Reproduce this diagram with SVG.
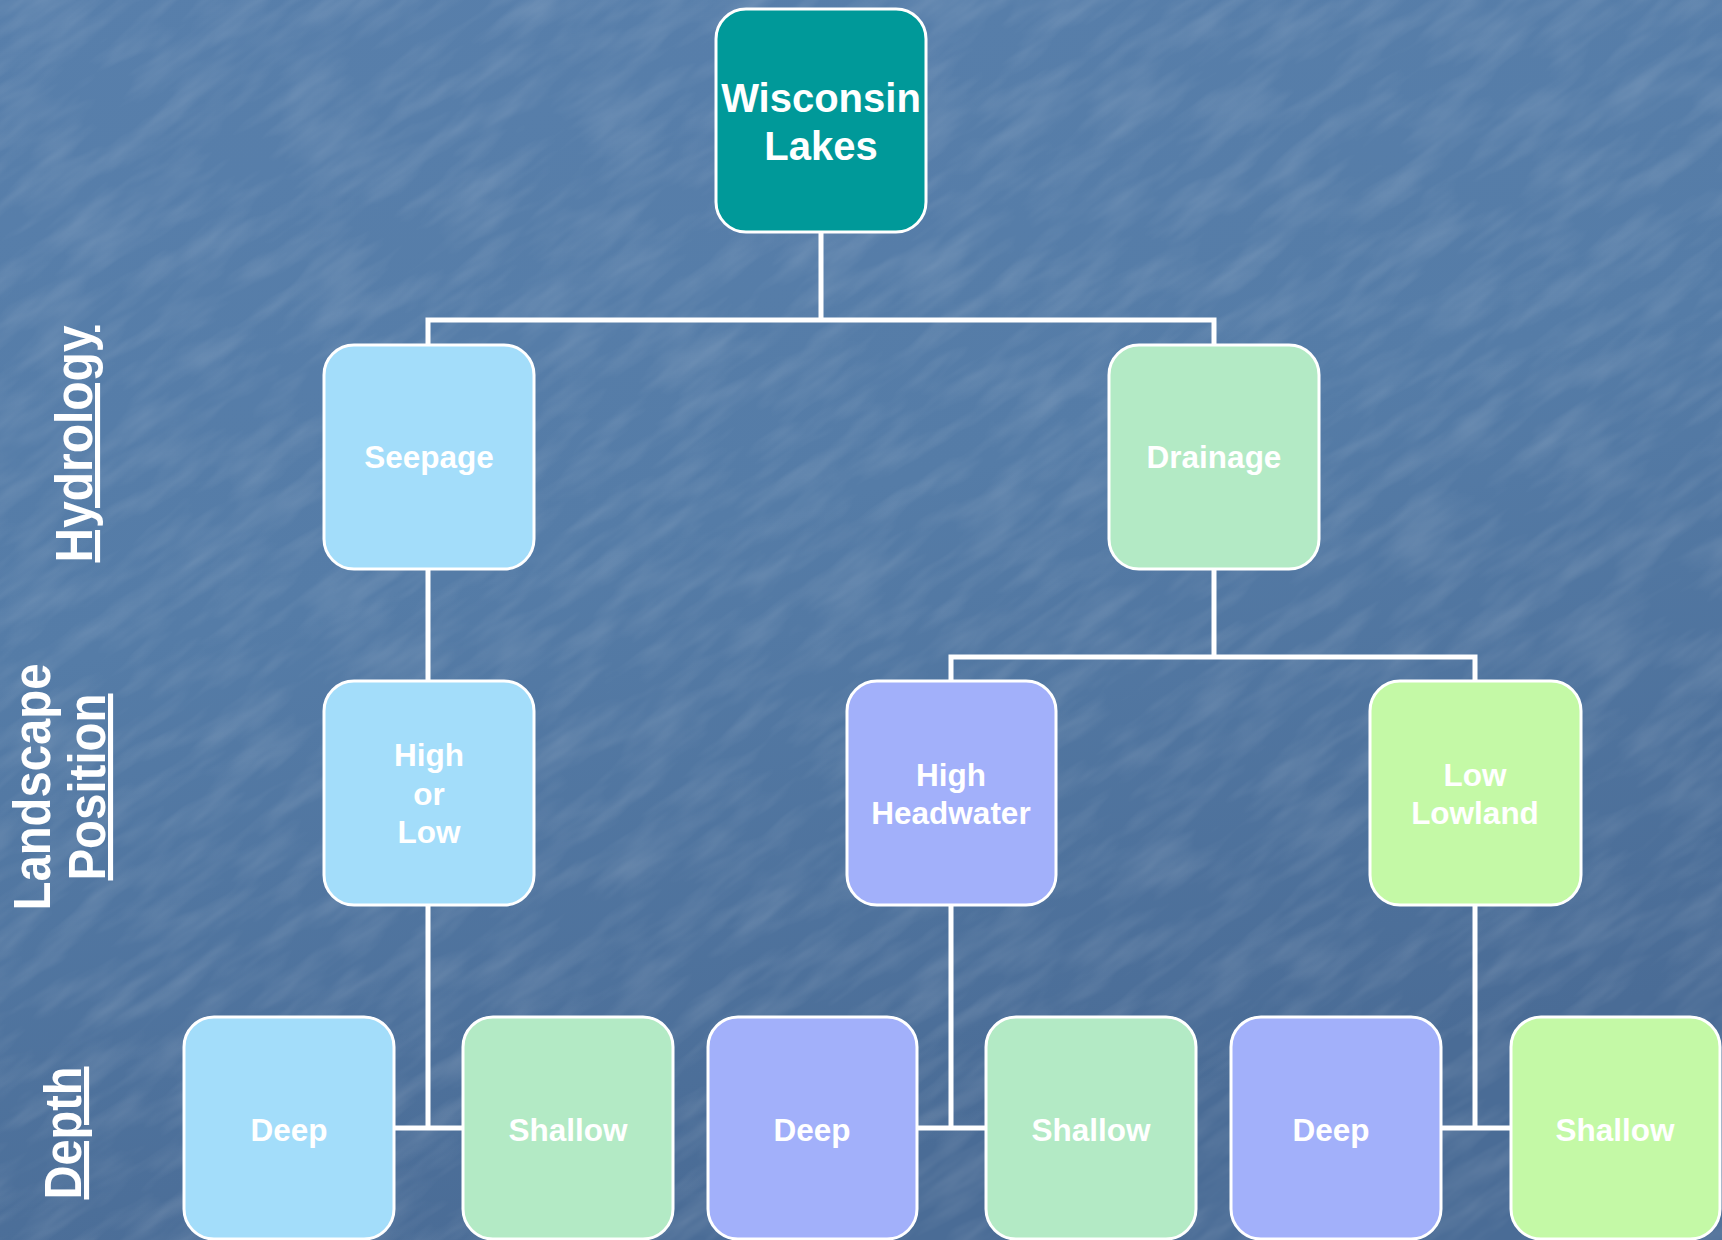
<svg xmlns="http://www.w3.org/2000/svg" width="1722" height="1240" viewBox="0 0 1722 1240">
<defs>
<linearGradient id="bg" x1="0" y1="0" x2="0.3" y2="1">
<stop offset="0" stop-color="#587fab"/>
<stop offset="0.5" stop-color="#557ca7"/>
<stop offset="1" stop-color="#4a6c96"/>
</linearGradient>
<filter id="tex" x="0" y="0" width="100%" height="100%">
<feTurbulence type="fractalNoise" baseFrequency="0.012 0.05" numOctaves="3" seed="4" result="n"/>
<feColorMatrix in="n" type="matrix" values="0 0 0 0 1  0 0 0 0 1  0 0 0 0 1  0 0 0 0.9 -0.35" />
</filter>
<style>
.box{stroke:#ffffff;stroke-width:3}
.lbl{font-family:"Liberation Sans",Arial,sans-serif;font-weight:bold;fill:#ffffff;text-anchor:middle}
.n{font-size:31.5px}
.side{font-family:"Liberation Sans",Arial,sans-serif;font-weight:bold;fill:#ffffff;text-anchor:middle;font-size:51px}
.ul{text-decoration:underline}
.conn{stroke:#ffffff;stroke-width:5;fill:none}
</style>
</defs>
<rect width="1722" height="1240" fill="url(#bg)"/>
<g transform="rotate(-35 861 620)" opacity="0.26">
<rect x="-600" y="-600" width="2922" height="2440" filter="url(#tex)"/>
</g>

<g id="side-labels">
<text class="side ul" transform="translate(92,444) rotate(-90)" textLength="237" lengthAdjust="spacingAndGlyphs">Hydrology</text>
<text class="side" transform="translate(50,787) rotate(-90)" textLength="247" lengthAdjust="spacingAndGlyphs">Landscape</text>
<text class="side ul" transform="translate(105,787) rotate(-90)" textLength="187" lengthAdjust="spacingAndGlyphs">Position</text>
<text class="side ul" transform="translate(81,1133) rotate(-90)" textLength="133" lengthAdjust="spacingAndGlyphs">Depth</text>
</g>

<g id="connectors">
<path class="conn" d="M821 232 V320 M428 344 V320 H1214 V344"/>
<path class="conn" d="M428 569 V681"/>
<path class="conn" d="M1214 569 V657 M951 681 V657 H1475 V681"/>
<path class="conn" d="M428 905 V1128 M394 1128 H463"/>
<path class="conn" d="M951 905 V1128 M917 1128 H986"/>
<path class="conn" d="M1475 905 V1128 M1441 1128 H1511"/>
</g>

<g id="root">
<rect class="box" x="716" y="9" width="210" height="223" rx="30" fill="#009999"/>
<text class="lbl" font-size="40" x="821" y="112">Wisconsin</text>
<text class="lbl" font-size="40" x="821" y="160">Lakes</text>
</g>
<g id="seepage">
<rect class="box" x="324" y="345" width="210" height="224" rx="30" fill="#a3ddfa"/>
<text class="lbl n" x="429" y="468">Seepage</text>
</g>
<g id="drainage">
<rect class="box" x="1109" y="345" width="210" height="224" rx="30" fill="#b3eac5"/>
<text class="lbl n" x="1214" y="468">Drainage</text>
</g>
<g id="high-or-low">
<rect class="box" x="324" y="681" width="210" height="224" rx="30" fill="#a3ddfa"/>
<text class="lbl n" x="429" y="766">High</text>
<text class="lbl n" x="429" y="805">or</text>
<text class="lbl n" x="429" y="843">Low</text>
</g>
<g id="high-headwater">
<rect class="box" x="847" y="681" width="209" height="224" rx="30" fill="#a2b0fa"/>
<text class="lbl n" x="951" y="786">High</text>
<text class="lbl n" x="951" y="824">Headwater</text>
</g>
<g id="low-lowland">
<rect class="box" x="1370" y="681" width="211" height="224" rx="30" fill="#c4f9a6"/>
<text class="lbl n" x="1475" y="786">Low</text>
<text class="lbl n" x="1475" y="824">Lowland</text>
</g>
<g id="deep-1">
<rect class="box" x="184" y="1017" width="210" height="222" rx="30" fill="#a3ddfa"/>
<text class="lbl n" x="289" y="1141">Deep</text>
</g>
<g id="shallow-1">
<rect class="box" x="463" y="1017" width="210" height="222" rx="30" fill="#b3eac5"/>
<text class="lbl n" x="568" y="1141">Shallow</text>
</g>
<g id="deep-2">
<rect class="box" x="708" y="1017" width="209" height="222" rx="30" fill="#a2b0fa"/>
<text class="lbl n" x="812" y="1141">Deep</text>
</g>
<g id="shallow-2">
<rect class="box" x="986" y="1017" width="210" height="222" rx="30" fill="#b3eac5"/>
<text class="lbl n" x="1091" y="1141">Shallow</text>
</g>
<g id="deep-3">
<rect class="box" x="1231" y="1017" width="210" height="222" rx="30" fill="#a2b0fa"/>
<text class="lbl n" x="1331" y="1141">Deep</text>
</g>
<g id="shallow-3">
<rect class="box" x="1511" y="1017" width="209" height="222" rx="30" fill="#c4f9a6"/>
<text class="lbl n" x="1615" y="1141">Shallow</text>
</g>
</svg>
